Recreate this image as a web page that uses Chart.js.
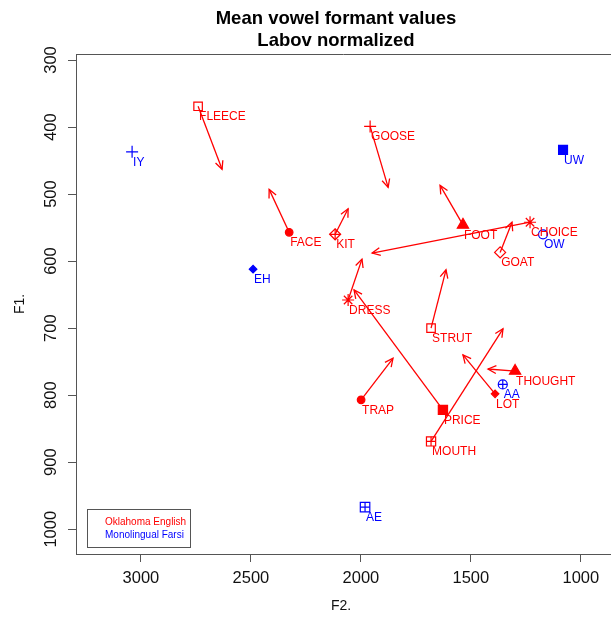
<!DOCTYPE html>
<html>
<head>
<meta charset="utf-8">
<title>Mean vowel formant values</title>
<script src="https://cdn.jsdelivr.net/npm/chart.js@4.4.1/dist/chart.umd.min.js"></script>
<style>
  html, body { margin: 0; padding: 0; background: #fff; overflow: hidden; }
  #wrap { width: 611px; height: 622px; }
</style>
</head>
<body>
<div id="wrap"><canvas id="vowelChart" width="611" height="622"></canvas></div>
<script>
// Oklahoma English - mean of each vowel and where its glide arrow points
const englishVowels = ['FLEECE', 'FACE', 'GOOSE', 'KIT', 'FOOT', 'CHOICE', 'GOAT', 'DRESS', 'STRUT', 'TRAP', 'PRICE', 'MOUTH', 'LOT', 'THOUGHT'];
const englishF2 = [2740, 2326, 1958, 2117, 1536, 1231, 1367, 2058, 1681, 1999, 1627, 1681, 1390, 1299];
const englishF1 = [369, 557, 399, 560, 546, 542, 587, 658, 700, 807, 822, 869, 798, 764];
const englishF2End = [2631, 2417, 1876, 2058, 1640, 1949, 1313, 1995, 1613, 1854, 2031, 1354, 1536, 1422];
const englishF1End = [463, 493, 490, 522, 487, 588, 542, 597, 613, 745, 643, 701, 740, 761];

// Monolingual Farsi
const farsiVowels = ['IY', 'EH', 'UW', 'OW', 'AA', 'AE'];
const farsiF2 = [3040, 2490, 1081, 1172, 1355, 1981];
const farsiF1 = [437, 612, 434, 560, 784, 967];

// axes
const f2Ticks = [3000, 2500, 2000, 1500, 1000];
const f1Ticks = [300, 400, 500, 600, 700, 800, 900, 1000];

const RED = '#ff0000';
const BLUE = '#0000ff';
const NONE = 'rgba(0,0,0,0)';
const FONT = '"Liberation Sans", Arial, Helvetica, sans-serif';

// look-alikes of the R plotting symbols (plus = extra cross drawn on top)
const markerStyle = {
    FLEECE: { style: 'rect', r: 6, fill: false },
    FACE: { style: 'circle', r: 3.8, fill: true },
    GOOSE: { style: 'cross', r: 6 },
    KIT: { style: 'rectRot', r: 5.5, fill: false, plus: 5.5 },
    FOOT: { style: 'triangle', r: 6.5, fill: true },
    CHOICE: { style: 'star', r: 6 },
    GOAT: { style: 'rectRot', r: 5.5, fill: false },
    DRESS: { style: 'star', r: 6 },
    STRUT: { style: 'rect', r: 6, fill: false },
    TRAP: { style: 'circle', r: 3.8, fill: true },
    PRICE: { style: 'rect', r: 6.5, fill: true },
    MOUTH: { style: 'rect', r: 6.5, fill: false, plus: 4.6 },
    LOT: { style: 'rectRot', r: 3.8, fill: true },
    THOUGHT: { style: 'triangle', r: 6.5, fill: true },
    IY: { style: 'cross', r: 6 },
    EH: { style: 'rectRot', r: 3.8, fill: true },
    UW: { style: 'rect', r: 6.3, fill: true },
    OW: { style: 'circle', r: 4.5, fill: false },
    AA: { style: 'circle', r: 4.5, fill: false, plus: 4.5 },
    AE: { style: 'rect', r: 6.7, fill: false, plus: 4.7 }
};

function markerDataset(names, xs, ys, color) {
    return {
        label: 'markers',
        data: names.map((n, i) => ({ x: xs[i], y: ys[i] })),
        pointStyle: names.map(n => markerStyle[n].style),
        pointRadius: names.map(n => markerStyle[n].r),
        pointHoverRadius: names.map(n => markerStyle[n].r),
        pointBackgroundColor: names.map(n => markerStyle[n].fill ? color : NONE),
        pointBorderColor: color,
        pointBorderWidth: 1.2,
        showLine: false
    };
}

function plusDataset(names, xs, ys, color) {
    const idx = names.map((n, i) => i).filter(i => markerStyle[names[i]].plus);
    return {
        label: 'plus',
        data: idx.map(i => ({ x: xs[i], y: ys[i] })),
        pointStyle: 'cross',
        pointRadius: idx.map(i => markerStyle[names[i]].plus),
        pointHoverRadius: idx.map(i => markerStyle[names[i]].plus),
        pointBorderColor: color,
        pointBorderWidth: 1.2,
        showLine: false
    };
}

// one small line dataset per arrow
const arrowDatasets = englishVowels.map((n, i) => ({
    label: 'arrow ' + n,
    data: [{ x: englishF2[i], y: englishF1[i] }, { x: englishF2End[i], y: englishF1End[i] }],
    showLine: true,
    borderColor: RED,
    borderWidth: 1.3,
    pointRadius: 0,
    pointHoverRadius: 0,
    fill: false
}));

const datasets = [
    ...arrowDatasets,
    markerDataset(englishVowels, englishF2, englishF1, RED),
    plusDataset(englishVowels, englishF2, englishF1, RED),
    markerDataset(farsiVowels, farsiF2, farsiF1, BLUE),
    plusDataset(farsiVowels, farsiF2, farsiF1, BLUE)
];
const englishIdx = arrowDatasets.length;
const farsiIdx = arrowDatasets.length + 2;

// arrow heads at the end of each arrow line
const arrowHeads = {
    id: 'arrowHeads',
    afterDatasetsDraw(chart) {
        const ctx = chart.ctx;
        ctx.save();
        ctx.strokeStyle = RED;
        ctx.lineWidth = 1.3;
        for (let i = 0; i < arrowDatasets.length; i++) {
            const pts = chart.getDatasetMeta(i).data;
            const a = pts[0], b = pts[1];
            const ang = Math.atan2(b.y - a.y, b.x - a.x);
            const len = 9, spread = Math.PI / 7;
            ctx.beginPath();
            ctx.moveTo(b.x - len * Math.cos(ang - spread), b.y - len * Math.sin(ang - spread));
            ctx.lineTo(b.x, b.y);
            ctx.lineTo(b.x - len * Math.cos(ang + spread), b.y - len * Math.sin(ang + spread));
            ctx.stroke();
        }
        ctx.restore();
    }
};

// vowel names next to the markers
const vowelLabels = {
    id: 'vowelLabels',
    afterDatasetsDraw(chart) {
        const ctx = chart.ctx;
        ctx.save();
        ctx.font = '12px ' + FONT;
        ctx.textAlign = 'left';
        ctx.textBaseline = 'alphabetic';
        const draw = (names, meta, color) => {
            ctx.fillStyle = color;
            names.forEach((n, i) => {
                const p = meta.data[i];
                ctx.fillText(n, p.x + 1, p.y + 14);
            });
        };
        draw(englishVowels, chart.getDatasetMeta(englishIdx), RED);
        draw(farsiVowels, chart.getDatasetMeta(farsiIdx), BLUE);
        ctx.restore();
    }
};

// frame, rotated F1 tick labels, titles and legend (R base-graphics look)
const decorations = {
    id: 'decorations',
    afterDraw(chart) {
        const ctx = chart.ctx;
        const area = chart.chartArea;
        const yScale = chart.scales.y;
        ctx.save();

        // top edge of the box
        ctx.strokeStyle = '#555';
        ctx.lineWidth = 1;
        ctx.beginPath();
        ctx.moveTo(area.left, Math.round(area.top) + 0.5);
        ctx.lineTo(area.right, Math.round(area.top) + 0.5);
        ctx.stroke();

        // F1 tick labels, rotated like R's las=0
        ctx.fillStyle = '#111';
        ctx.font = '16.5px ' + FONT;
        ctx.textAlign = 'center';
        ctx.textBaseline = 'middle';
        f1Ticks.forEach(v => {
            const y = yScale.getPixelForValue(v);
            ctx.save();
            ctx.translate(51, y);
            ctx.rotate(-Math.PI / 2);
            ctx.fillText(String(v), 0, 0);
            ctx.restore();
        });

        // axis titles
        ctx.font = '14px ' + FONT;
        ctx.fillText('F2.', 341, 606);
        ctx.save();
        ctx.translate(20, (area.top + area.bottom) / 2);
        ctx.rotate(-Math.PI / 2);
        ctx.fillText('F1.', 0, 0);
        ctx.restore();

        // main title
        ctx.fillStyle = '#000';
        ctx.font = 'bold 18.5px ' + FONT;
        ctx.textBaseline = 'alphabetic';
        ctx.fillText('Mean vowel formant values', 336, 24);
        ctx.fillText('Labov normalized', 336, 46);

        // legend
        ctx.strokeStyle = '#555';
        ctx.strokeRect(87.5, 509.5, 103, 38);
        ctx.font = '10px ' + FONT;
        ctx.textAlign = 'left';
        ctx.textBaseline = 'middle';
        ctx.fillStyle = RED;
        ctx.fillText('Oklahoma English', 105, 522);
        ctx.fillStyle = BLUE;
        ctx.fillText('Monolingual Farsi', 105, 535);

        ctx.restore();
    }
};

new Chart(document.getElementById('vowelChart'), {
    type: 'scatter',
    data: { datasets: datasets },
    options: {
        responsive: false,
        animation: false,
        events: [],
        layout: { autoPadding: false, padding: { top: 54, right: 0, left: 0, bottom: 0 } },
        plugins: {
            legend: { display: false },
            tooltip: { enabled: false },
            title: { display: false }
        },
        scales: {
            x: {
                type: 'linear',
                position: 'bottom',
                reverse: true,
                min: 863,
                max: 3295,
                afterBuildTicks: scale => { scale.ticks = f2Ticks.map(v => ({ value: v })); },
                afterFit: scale => {
                    scale.height = 68;
                    scale.paddingLeft = 0;
                    scale.paddingRight = 0;
                },
                grid: { drawOnChartArea: false, drawTicks: true, tickLength: 8, color: '#555', lineWidth: 1 },
                border: { display: true, color: '#555', width: 1 },
                ticks: {
                    autoSkip: false,
                    maxRotation: 0,
                    padding: 7,
                    color: '#111',
                    font: { family: FONT, size: 16.5 },
                    callback: v => String(v)
                }
            },
            y: {
                type: 'linear',
                position: 'left',
                reverse: true,
                min: 291,
                max: 1037,
                afterBuildTicks: scale => { scale.ticks = f1Ticks.map(v => ({ value: v })); },
                afterFit: scale => {
                    scale.width = 76;
                    scale.paddingTop = 0;
                    scale.paddingBottom = 0;
                },
                grid: { drawOnChartArea: false, drawTicks: true, tickLength: 8, color: '#555', lineWidth: 1 },
                border: { display: true, color: '#555', width: 1 },
                ticks: { display: false }
            }
        }
    },
    plugins: [arrowHeads, vowelLabels, decorations]
});
</script>
</body>
</html>
